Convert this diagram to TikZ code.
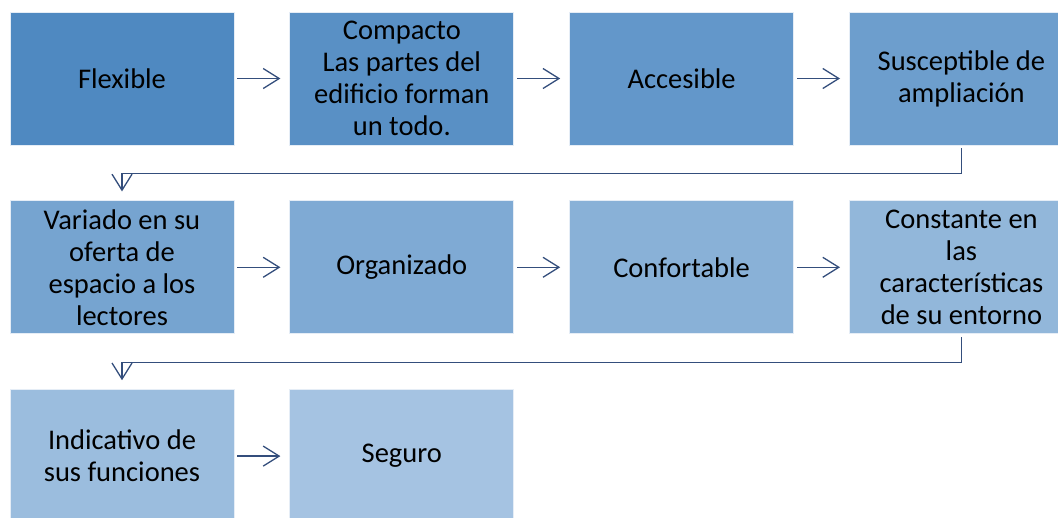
\documentclass[tikz,border=0pt]{standalone}
\usepackage{fontspec}
\setmainfont{Carlito}
\usetikzlibrary{arrows.meta}
\usetikzlibrary{positioning}
\definecolor{boxA}{RGB}{79,137,193}
\definecolor{boxB}{RGB}{89,144,197}
\definecolor{boxC}{RGB}{99,151,202}
\definecolor{boxD}{RGB}{109,158,205}
\definecolor{boxE}{RGB}{118,164,208}
\definecolor{boxF}{RGB}{127,170,212}
\definecolor{boxG}{RGB}{137,177,215}
\definecolor{boxH}{RGB}{146,183,218}
\definecolor{boxI}{RGB}{155,189,222}
\definecolor{boxJ}{RGB}{165,195,226}
\definecolor{linkcol}{RGB}{52,78,124}

\begin{document}
\begin{tikzpicture}[x=1pt,y=1pt]
  \tikzset{block/.style={draw=white!85!boxA, line width=0.8pt, minimum width=224pt, minimum height=133pt,
      inner sep=0pt, align=center, text=black, font=\fontsize{28.5}{32}\selectfont}}
  \tikzset{link/.style={draw=linkcol, line width=1.3pt, ->, >={Straight Barb[length=16pt,width=20pt,line width=1.3pt]}}}

  \useasboundingbox (0,0) rectangle (1058,-517);

  % first row
  \node[block, fill=boxA] (flexible) at (122,-78.5) {Flexible};
  \node[block, fill=boxB, right=55pt of flexible] (compacto) {Compacto\\Las partes del\\edificio forman\\un todo.};
  \node[block, fill=boxC, right=55pt of compacto] (accesible) {Accesible};
  \node[block, fill=boxD, right=55pt of accesible] (ampliacion) {Susceptible de\\ampliación};

  % second row
  \node[block, fill=boxE, below=55pt of flexible] (variado) {Variado en su\\oferta de\\espacio a los\\lectores};
  \node[block, fill=boxF, right=55pt of variado] (organizado) {Organizado};
  \node[block, fill=boxG, right=55pt of organizado] (confortable) {Confortable};
  \node[block, fill=boxH, right=55pt of confortable] (constante) {Constante en\\las\\características\\de su entorno};

  % third row
  \node[block, fill=boxI, below=55pt of variado] (indicativo) {Indicativo de\\sus funciones};
  \node[block, fill=boxJ, right=55pt of indicativo] (seguro) {Seguro};

  \draw[link] ([xshift=3pt]flexible.east) -- ([xshift=-9pt]compacto.west);
  \draw[link] ([xshift=3pt]compacto.east) -- ([xshift=-9pt]accesible.west);
  \draw[link] ([xshift=3pt]accesible.east) -- ([xshift=-9pt]ampliacion.west);
  \draw[link] ([yshift=-3pt]ampliacion.south) -- ++(0,-25pt) -| ([yshift=9pt]variado.north);

  \draw[link] ([xshift=3pt]variado.east) -- ([xshift=-9pt]organizado.west);
  \draw[link] ([xshift=3pt]organizado.east) -- ([xshift=-9pt]confortable.west);
  \draw[link] ([xshift=3pt]confortable.east) -- ([xshift=-9pt]constante.west);
  \draw[link] ([yshift=-3pt]constante.south) -- ++(0,-25pt) -| ([yshift=9pt]indicativo.north);

  \draw[link] ([xshift=3pt]indicativo.east) -- ([xshift=-9pt]seguro.west);
\end{tikzpicture}
\end{document}
